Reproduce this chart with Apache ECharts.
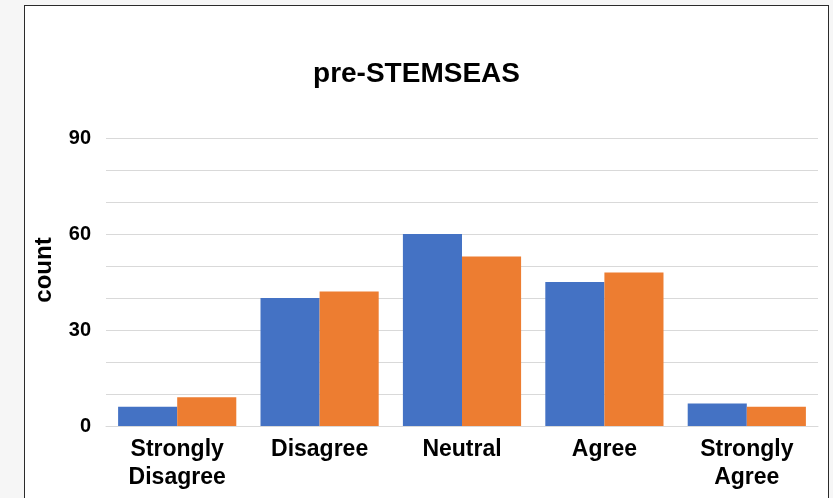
<!DOCTYPE html>
<html>
<head>
<meta charset="utf-8">
<script src="https://cdn.jsdelivr.net/npm/echarts@6/dist/echarts.min.js"></script>
<style>
  html, body { margin: 0; padding: 0; width: 833px; height: 498px; overflow: hidden;
    background: #f6f6f6; }
  #panel { position: absolute; left: 24px; top: 5px; width: 805px; height: 520px;
    border: 1.5px solid #2b2b2b; background: #ffffff; box-sizing: border-box; }
  #chart { position: absolute; left: 0; top: 0; width: 833px; height: 498px; }
</style>
</head>
<body>
<div id="panel"></div>
<div id="chart"></div>
<script>
const titleText = 'pre-STEMSEAS';
const yAxisTitle = 'count';
const categories = ['Strongly\nDisagree', 'Disagree', 'Neutral', 'Agree', 'Strongly\nAgree'];
const seriesNames = ['Series 1', 'Series 2'];
const series1Values = [6, 40, 60, 45, 7];
const series2Values = [9, 42, 53, 48, 6];
const yTickLabels = [0, 30, 60, 90];

const font = 'Liberation Sans, Arial, sans-serif';
const chart = echarts.init(document.getElementById('chart'), null, { renderer: 'canvas' });
chart.setOption({
  backgroundColor: 'transparent',
  animation: false,
  title: {
    text: titleText, left: 'center', top: 55,
    textStyle: { fontFamily: font, fontSize: 28, fontWeight: 'bold', color: '#000' }
  },
  grid: { left: 106, right: 15, top: 138, bottom: 72, containLabel: false },
  xAxis: {
    type: 'category', data: categories,
    axisLine: { lineStyle: { color: '#d9d9d9', width: 1 } },
    axisTick: { show: false },
    axisLabel: { fontFamily: font, fontSize: 23, fontWeight: 'bold', color: '#000',
      lineHeight: 28, margin: 10, interval: 0 }
  },
  yAxis: {
    type: 'value', min: 0, max: 90, interval: 10,
    axisLine: { show: false }, axisTick: { show: false },
    splitLine: { lineStyle: { color: '#d9d9d9', width: 1 } },
    axisLabel: { fontFamily: font, fontSize: 20, fontWeight: 'bold', color: '#000', margin: 15,
      formatter: v => (yTickLabels.indexOf(v) >= 0 ? String(v) : '') }
  },
  graphic: [{
    type: 'text', x: 44, y: 270, rotation: Math.PI / 2,
    style: { text: yAxisTitle, fontFamily: font, fontSize: 24, fontWeight: 'bold', fill: '#000',
      align: 'center', verticalAlign: 'middle' }
  }],
  series: [
    { name: seriesNames[0], type: 'bar', data: series1Values, barGap: '0%', barCategoryGap: '17%',
      itemStyle: { color: '#4472C4' } },
    { name: seriesNames[1], type: 'bar', data: series2Values, barGap: '0%', barCategoryGap: '17%',
      itemStyle: { color: '#ED7D31' } }
  ]
});
</script>
</body>
</html>
